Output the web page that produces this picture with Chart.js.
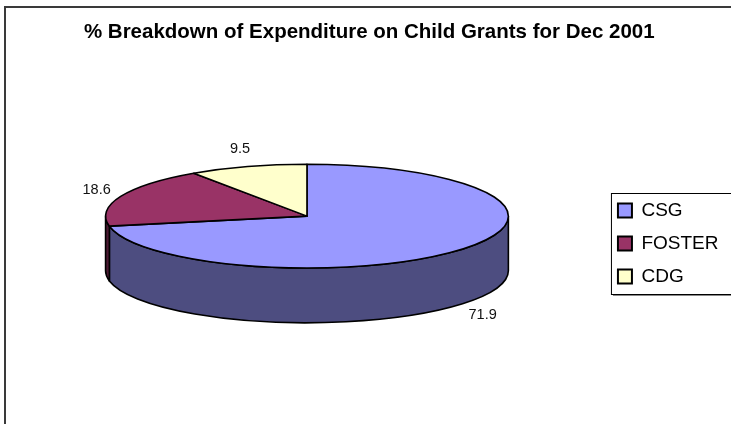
<!DOCTYPE html>
<html>
<head>
<meta charset="utf-8">
<script src="https://cdn.jsdelivr.net/npm/chart.js@4.4.1/dist/chart.umd.min.js"></script>
<style>
  html, body { margin: 0; padding: 0; background: #fff; }
</style>
</head>
<body>
<canvas id="grantsChart" width="731" height="424"></canvas>
<script>
// expenditure split, Dec 2001 (percent)
const grantLabels = ['CSG', 'FOSTER', 'CDG'];
const grantShares = [71.9, 18.6, 9.5];
const topColors = ['#9999FF', '#993366', '#FFFFCC'];
const sideColors = ['#4D4D80', '#4D1A33', '#808066'];

// flattening of the disc, relative to the radius chart.js gives the pie
const STRETCH_X = 1.122;
const TILT = 0.289;
const DEPTH = 0.305;

function ellipsePoint(cx, cy, rx, ry, a) {
  return { x: cx + rx * Math.cos(a), y: cy + ry * Math.sin(a) };
}

const pie3d = {
  id: 'pie3d',
  beforeDraw(chart) {
    // outer chart frame, only left/top edges fall inside the canvas
    const ctx = chart.ctx;
    ctx.save();
    ctx.strokeStyle = '#3a3a3a';
    ctx.lineWidth = 2;
    ctx.strokeRect(5, 7, chart.width + 20, chart.height + 20);
    ctx.restore();
  },
  beforeDatasetsDraw(chart) {
    const meta = chart.getDatasetMeta(0);
    const ctx = chart.ctx;
    const r = meta.data[0].outerRadius;
    const rx = r * STRETCH_X, ry = r * TILT, depth = r * DEPTH;
    const cx = meta.data[0].x;
    const cy = meta.data[0].y - depth / 2;
    chart.$pie = { cx, cy, rx, ry, depth };

    ctx.save();
    ctx.lineWidth = 1.6;
    ctx.strokeStyle = '#000';
    ctx.lineJoin = 'round';

    // rim: only the front half (0..PI) can be seen
    meta.data.forEach((arc, i) => {
      for (const off of [-2 * Math.PI, 0, 2 * Math.PI]) {
        const s = Math.max(arc.startAngle, off);
        const e = Math.min(arc.endAngle, off + Math.PI);
        if (e <= s) continue;
        const pe = ellipsePoint(cx, cy, rx, ry, e);
        ctx.beginPath();
        ctx.ellipse(cx, cy, rx, ry, 0, s, e);
        ctx.lineTo(pe.x, pe.y + depth);
        ctx.ellipse(cx, cy + depth, rx, ry, 0, e, s, true);
        ctx.closePath();
        ctx.fillStyle = sideColors[i];
        ctx.fill();
        ctx.stroke();
      }
    });

    // top face
    meta.data.forEach((arc, i) => {
      ctx.beginPath();
      ctx.moveTo(cx, cy);
      ctx.ellipse(cx, cy, rx, ry, 0, arc.startAngle, arc.endAngle);
      ctx.closePath();
      ctx.fillStyle = topColors[i];
      ctx.fill();
      ctx.stroke();
    });
    ctx.restore();
    return false;
  },
  afterDraw(chart) {
    const ctx = chart.ctx;
    const meta = chart.getDatasetMeta(0);
    const p = chart.$pie;
    if (!p) return;

    // value labels just outside each slice
    ctx.save();
    ctx.font = '14.5px Arial';
    ctx.fillStyle = '#111';
    ctx.textAlign = 'center';
    ctx.textBaseline = 'middle';
    meta.data.forEach((arc, i) => {
      const mid = (arc.startAngle + arc.endAngle) / 2;
      const pt = ellipsePoint(p.cx, p.cy, p.rx + 26, p.ry + 18, mid);
      const y = Math.sin(mid) > 0 ? pt.y + p.depth : pt.y;
      ctx.fillText(grantShares[i].toFixed(1), pt.x, y);
    });

    // box around the legend
    const lg = chart.legend;
    const hb = lg.legendHitBoxes;
    const top = hb[0].top - 8;
    const bottom = hb[hb.length - 1].top + hb[hb.length - 1].height + 8;
    const left = lg.left + 7;
    ctx.strokeStyle = '#000';
    ctx.lineWidth = 1;
    ctx.strokeRect(left + 0.5, top + 0.5, chart.width, bottom - top);
    ctx.strokeStyle = '#888';
    ctx.beginPath();
    ctx.moveTo(left + 2, bottom + 1.5);
    ctx.lineTo(chart.width, bottom + 1.5);
    ctx.stroke();
    ctx.restore();
  }
};

const ctx = document.getElementById('grantsChart').getContext('2d');
new Chart(ctx, {
  type: 'pie',
  data: {
    labels: grantLabels,
    datasets: [{
      data: grantShares,
      backgroundColor: topColors,
      borderColor: '#000',
      borderWidth: 2
    }]
  },
  options: {
    responsive: false,
    animation: false,
    layout: { padding: { left: 10, right: 2.5, top: 0, bottom: 0 } },
    plugins: {
      title: {
        display: true,
        text: '% Breakdown of Expenditure on Child Grants for Dec 2001',
        color: '#000',
        font: { family: 'Arial', size: 20.5, weight: 'bold' },
        padding: { top: 20, bottom: 18.4 }
      },
      legend: {
        position: 'right',
        fullSize: false,
        labels: {
          boxWidth: 14,
          boxHeight: 14,
          padding: 14,
          color: '#000',
          font: { family: 'Arial', size: 19 }
        }
      },
      tooltip: { enabled: false }
    }
  },
  plugins: [pie3d]
});
</script>
</body>
</html>
